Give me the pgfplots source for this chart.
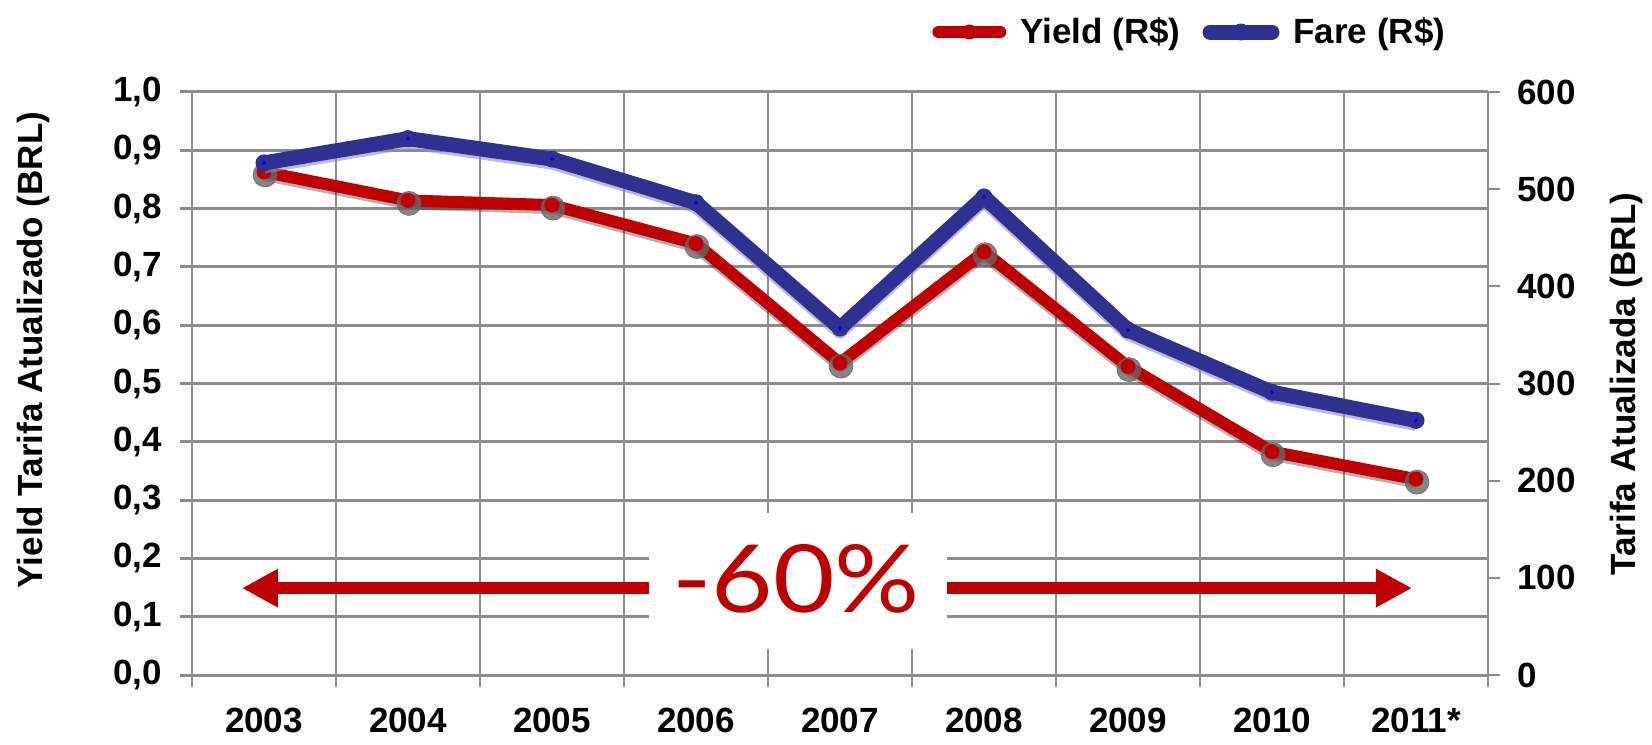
\documentclass[border=0pt]{standalone}
\usepackage{fontspec}
\setmainfont{Liberation Sans}
\newfontfamily\pctfont{Lato}[FakeStretch=1.13]
\usepackage{pgfplots}
\usepackage{pgfplotstable}
\pgfplotsset{compat=1.18}
\usetikzlibrary{arrows.meta}

\definecolor{yieldred}{HTML}{C00000}
\definecolor{fareblue}{HTML}{2E3192}
\definecolor{gridgray}{HTML}{8C8C8C}

% yield (left axis, BRL) and fare (right axis, BRL)
\pgfplotstableread{
x y
0 0.863
1 0.814
2 0.806
3 0.740
4 0.535
5 0.726
6 0.529
7 0.383
8 0.336
}\yielddata

\pgfplotstableread{
x y
0 527
1 552
2 531
3 486
4 357
5 492
6 355
7 291
8 262
}\faredata

\pgfplotsset{
  base/.style={
    width=648pt, height=291.5pt, scale only axis,
    xmin=-0.5, xmax=8.5,
    tick align=outside, major tick length=6pt, minor tick length=6pt,
    /pgf/number format/assume math mode=true,
    tick label style={font=\fontsize{17.5}{20}\selectfont\bfseries},
    label style={font=\fontsize{17.5}{20}\selectfont\bfseries},
  },
}

\begin{document}
\begin{tikzpicture}
\begin{axis}[base, name=main,
  ymin=0, ymax=1,
  clip=false,
  xtick={0,...,8},
  xticklabels={2003,2004,2005,2006,2007,2008,2009,2010,2011*},
  xticklabel style={yshift=-7pt},
  minor xtick={-0.5,0.5,...,8.5},
  tick pos=left,
  ytick={0,0.1,...,1.0},
  yticklabel style={xshift=-5.5pt, /pgf/number format/.cd, fixed, fixed zerofill, precision=1, use comma},
  ymajorgrids, xminorgrids,
  major y grid style={gridgray, line width=1.5pt},
  minor x grid style={gridgray, line width=1pt},
  major x tick style={draw=none},
  minor x tick style={gridgray, line width=1pt},
  ytick style={gridgray, line width=1.5pt},
  axis line style={gridgray, line width=1pt},
  ylabel={Yield Tarifa Atualizado (BRL)},
  ylabel style={at={(rel axis cs:-0.1227,0.5575)}, anchor=center},
]
\addplot[forget plot, black, opacity=0.3, line width=6pt, line join=round, yshift=-1.5pt] table {\yielddata};
\addplot[forget plot, only marks, mark=*, mark size=6pt, color=black!60, opacity=0.8, xshift=0.5pt, yshift=-1.5pt] table {\yielddata};
\addplot[yieldred, line width=6pt, line join=round, line cap=round, mark=*, mark size=3.5pt, mark options={line width=0.5pt}] table {\yielddata};

% -60% annotation
\node[fill=white, minimum width=149pt, minimum height=68pt, inner sep=0pt] at (axis cs:3.71,0.161) {};
\node[text=yieldred, font=\pctfont\fontsize{47}{50}\selectfont, inner sep=0pt] at (axis cs:3.694,0.165) {-60\%};
\draw[yieldred, line width=6pt, -{Triangle[width=18pt,length=18pt]}] (axis cs:2.674,0.149) -- (axis cs:-0.153,0.149);
\draw[yieldred, line width=6pt, -{Triangle[width=18pt,length=18pt]}] (axis cs:4.743,0.149) -- (axis cs:7.972,0.149);
\end{axis}

\begin{axis}[base,
  ymin=0, ymax=600,
  axis x line=none, axis y line*=right,
  ytick={0,100,...,600},
  yticklabel style={xshift=5pt},
  ytick style={gridgray, line width=1pt},
  axis line style={gridgray, line width=1pt},
  ylabel={Tarifa Atualizada (BRL)},
  ylabel style={at={(rel axis cs:1.107,0.499)}, anchor=center},
  legend style={draw=none, fill=none, at={(0.975,1)}, anchor=east, yshift=30pt,
    legend columns=2, font=\fontsize{17.5}{20}\selectfont\bfseries,
    /tikz/every odd column/.append style={column sep=5pt},
    /tikz/every even column/.append style={column sep=9pt}},
  legend image code/.code={\draw[mark repeat=2,mark phase=2,#1] plot coordinates {(0pt,0pt) (15.5pt,0pt) (31pt,0pt)};},
]
\addlegendimage{yieldred, line width=6pt, line cap=round, mark=*, mark size=3.5pt, mark options={line width=0.5pt}}
\addlegendentry{Yield (R\$)}
\addplot[forget plot, color=fareblue!55, opacity=0.6, line width=7.5pt, line join=round, yshift=-1.5pt] table {\faredata};
\addplot[fareblue, line width=7.5pt, line join=round, line cap=round, mark=*, mark size=4pt, mark options={line width=0.5pt}] table {\faredata};
\addlegendentry{Fare (R\$)}
\addplot[forget plot, only marks, mark=*, mark size=0.8pt, color=blue] table {\faredata};
\end{axis}

\pgfresetboundingbox
\path[use as bounding box] ([shift={(-96pt,-34.5pt)}]main.south west) rectangle ([shift={(82pt,46pt)}]main.north east);
\end{tikzpicture}
\end{document}
